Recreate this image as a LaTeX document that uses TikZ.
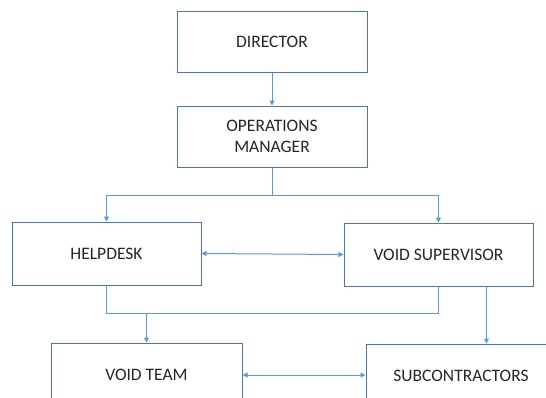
\documentclass[tikz,border=0pt]{standalone}
\usepackage{fontspec}
\setmainfont{Carlito}
\usetikzlibrary{arrows.meta,calc}
\definecolor{lineblue}{HTML}{5B9BD5}
\definecolor{boxblue}{HTML}{4A78A8}
\definecolor{txt}{HTML}{262626}
\begin{document}
\begin{tikzpicture}[x=1pt,y=-1pt,
  box/.style={draw=boxblue,line width=1pt,fill=white,minimum width=190pt,minimum height=63pt,inner sep=0pt,align=center,text=txt,font=\fontsize{17.5}{20.5}\selectfont},
  conn/.style={draw=lineblue,line width=1pt},
  arr/.style={conn,-{Triangle[width=5pt,length=5pt]}},
  darr/.style={conn,{Triangle[width=5pt,length=5pt]}-{Triangle[width=5pt,length=5pt]}}]
\fill[white] (0,0) rectangle (546,397);
\useasboundingbox (0,0) rectangle (546,397);
\clip (0,0) rectangle (546,397);
\node[box,minimum height=61pt] (dir) at (272,41.5) {DIRECTOR};
\node[box,minimum height=61pt] (ops) at (272,136.5) {OPERATIONS\\MANAGER};
\node[box,minimum width=189pt] (help) at (106.5,253.5) {HELPDESK};
\node[box,minimum width=189pt] (vs) at (438.5,254.5) {VOID SUPERVISOR};
\node[box,minimum width=191pt,minimum height=64pt] (team) at (146.5,375) {VOID TEAM};
\node[box,minimum height=64pt] (sub) at (461,376) {SUBCONTRACTORS};
\draw[arr] (dir.south) -- (ops.north);
\coordinate (split) at ($(ops.south)+(0,28)$);
\draw[conn] (ops.south) -- (split);
\draw[arr] (split) -| (help.north);
\draw[arr] (split) -| (vs.north);
\draw[darr] (help.east) -- (vs.west);
\coordinate (join) at ($(help.south)+(0,28)$);
\draw[conn] (help.south) -- (join) -| (vs.south);
\draw[arr] (join -| team.north) -- (team.north);
\coordinate (vsr) at ($(vs.south)+(48,0)$);
\draw[arr] (vsr) -- (vsr |- sub.north);
\draw[darr] (team.east) -- (team.east -| sub.west);
\end{tikzpicture}
\end{document}
